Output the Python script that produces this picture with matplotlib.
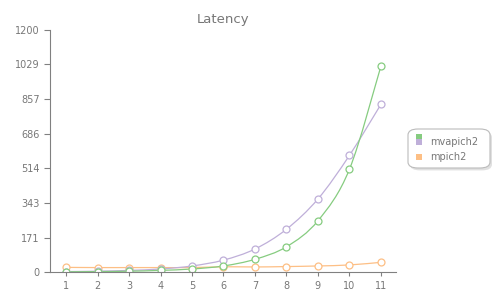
import matplotlib
matplotlib.use("Agg")
import matplotlib.pyplot as plt
from matplotlib.path import Path
from matplotlib.patches import PathPatch, FancyBboxPatch, Rectangle

x = [1, 2, 3, 4, 5, 6, 7, 8, 9, 10, 11]
mvapich2_a = [1, 2, 4, 8, 15, 30, 63, 125, 254, 509, 1020]
mvapich2_b = [2, 4, 8, 15, 30, 59, 114, 212, 362, 578, 831]
mpich2 = [23, 22, 22, 22, 22, 26, 25, 27, 30, 35, 48]

yticks = [0, 171, 343, 514, 686, 857, 1029, 1200]
colors = ["#86cc80", "#bfafd9", "#fdbf85"]
grey = "#808080"


def smooth_path(xs, ys):
    # catmull-rom style bezier through the data points
    verts = [(xs[0], ys[0])]
    codes = [Path.MOVETO]
    n = len(xs)
    for i in range(n - 1):
        x0, y0 = (xs[i - 1], ys[i - 1]) if i > 0 else (xs[i], ys[i])
        x1, y1 = xs[i], ys[i]
        x2, y2 = xs[i + 1], ys[i + 1]
        x3, y3 = (xs[i + 2], ys[i + 2]) if i + 2 < n else (x2, y2)
        c1 = (x1 + (x2 - x0) / 6, y1 + (y2 - y0) / 6)
        c2 = (x2 - (x3 - x1) / 6, y2 - (y3 - y1) / 6)
        verts += [c1, c2, (x2, y2)]
        codes += [Path.CURVE4] * 3
    return Path(verts, codes)


fig = plt.figure(figsize=(5, 3), dpi=100)
ax = fig.add_axes([0.1, 0.0933, 0.692, 0.8067])

for ys, c in zip([mpich2, mvapich2_b, mvapich2_a], [colors[2], colors[1], colors[0]]):
    ax.add_patch(PathPatch(smooth_path(x, ys), fill=False, edgecolor=c, lw=0.9))
    ax.plot(x, ys, linestyle="none", marker="o", markersize=5,
            markerfacecolor="white", markeredgecolor=c, markeredgewidth=0.9)

ax.set_xlim(0.49, 11.48)
ax.set_ylim(0, 1200)
ax.set_xticks(x)
ax.set_yticks(yticks)
for s in ["top", "right"]:
    ax.spines[s].set_visible(False)
for s in ["left", "bottom"]:
    ax.spines[s].set_color(grey)
ax.tick_params(colors=grey, labelsize=7, length=4, width=0.8, labelcolor="#777777")
ax.tick_params(axis="x", length=3)
ax.set_title("Latency", fontsize=9.5, color="#777777", pad=5)

# legend box
lx, ly = 0.816, 0.44
fig.patches.append(FancyBboxPatch((lx + 0.004, ly - 0.008), 0.164, 0.13,
                                  boxstyle="round,pad=0,rounding_size=0.02",
                                  transform=fig.transFigure, facecolor="#cccccc",
                                  edgecolor="none", alpha=0.6))
fig.patches.append(FancyBboxPatch((lx, ly), 0.164, 0.13,
                                  boxstyle="round,pad=0,rounding_size=0.02",
                                  transform=fig.transFigure, facecolor="white",
                                  edgecolor="#bbbbbb", lw=0.8))
sq = 0.012
fig.patches.append(Rectangle((0.832, 0.533), sq, 0.02, transform=fig.transFigure,
                             facecolor=colors[0], edgecolor="none"))
fig.patches.append(Rectangle((0.832, 0.517), sq, 0.02, transform=fig.transFigure,
                             facecolor=colors[1], edgecolor="none"))
fig.patches.append(Rectangle((0.832, 0.467), sq, 0.02, transform=fig.transFigure,
                             facecolor=colors[2], edgecolor="none"))
fig.text(0.86, 0.527, "mvapich2", fontsize=7, color="#777777", va="center")
fig.text(0.86, 0.477, "mpich2", fontsize=7, color="#777777", va="center")

fig.savefig("out.png", dpi=100)
